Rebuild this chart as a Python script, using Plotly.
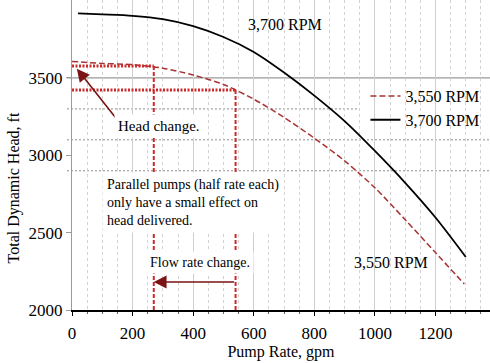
import plotly.graph_objects as go

# ---- data ----
flow_3700 = [20, 100, 200, 300, 400, 500, 600, 700, 800, 900, 1000, 1100, 1200, 1300]
head_3700 = [3917, 3911, 3902, 3880, 3835, 3765, 3668, 3535, 3386, 3221, 3028, 2822, 2598, 2343]

flow_3550 = [0, 100, 200, 300, 400, 500, 600, 700, 800, 900, 1000, 1100, 1200, 1295]
head_3550 = [3607, 3594, 3586, 3563, 3519, 3458, 3363, 3245, 3111, 2964, 2790, 2584, 2371, 2168]

change_flows = [270, 540]      # half rate (parallel) and full rate
change_heads = [3577, 3422]    # head at each rate on 3,550 RPM curve
y_grid_dotted = [3300, 3100, 2900]
y_grid_solid = [3500]

x_ticks = [0, 200, 400, 600, 800, 1000, 1200]
y_ticks = [2000, 2500, 3000, 3500]
x_range = [0, 1380]
y_range = [2000, 4004]

FONT = "Liberation Serif, Times New Roman, serif"
RED_CURVE = "#a83232"
RED_GUIDE = "#cc2a2a"
ARROW = "#7a1414"

fig = go.Figure()

fig.add_trace(go.Scatter(
    x=flow_3550, y=head_3550, mode="lines", name="3,550 RPM",
    line=dict(color=RED_CURVE, width=1.5, dash="6px,3px", shape="spline", smoothing=0.8),
))
fig.add_trace(go.Scatter(
    x=flow_3700, y=head_3700, mode="lines", name="3,700 RPM",
    line=dict(color="black", width=1.8, shape="spline", smoothing=0.8),
))

shapes = []
# horizontal gridlines
for yv in y_grid_solid:
    shapes.append(dict(type="line", xref="paper", yref="y", x0=-0.012, x1=1, y0=yv, y1=yv,
                       line=dict(color="#9a9a9a", width=1.2), layer="below"))
for yv in y_grid_dotted:
    shapes.append(dict(type="line", xref="paper", yref="y", x0=-0.012, x1=1, y0=yv, y1=yv,
                       line=dict(color="#8a8a8a", width=1, dash="2px,2px"), layer="below"))
# white backdrop behind the legend (hides grid, not curves)
shapes.append(dict(type="rect", xref="paper", yref="paper", x0=0.686, x1=1.0, y0=0.58, y1=0.728,
                   fillcolor="white", line=dict(width=0), layer="below"))
# red guide lines: horizontal from y-axis to curve, vertical from curve to x-axis
for fq, hd in zip(change_flows, change_heads):
    shapes.append(dict(type="line", xref="x", yref="y", x0=x_range[0], x1=fq, y0=hd, y1=hd,
                       line=dict(color=RED_GUIDE, width=3, dash="2px,1.5px")))
    shapes.append(dict(type="line", xref="x", yref="y", x0=fq, x1=fq, y0=hd, y1=y_range[0],
                       line=dict(color=RED_GUIDE, width=2, dash="4px,2px")))

annotations = [
    dict(x=575, y=3843, xref="x", yref="y", text="3,700 RPM", showarrow=False,
         xanchor="left", yanchor="middle", font=dict(family=FONT, size=16, color="black")),
    dict(x=926, y=2304, xref="x", yref="y", text="3,550 RPM", showarrow=False,
         xanchor="left", yanchor="middle", font=dict(family=FONT, size=16, color="black")),
    # head change arrow
    dict(x=16, y=3560, xref="x", yref="y", ax=150, ay=3228, axref="x", ayref="y",
         text="", showarrow=True, arrowhead=2, arrowsize=1.6, arrowwidth=1.6, arrowcolor=ARROW),
    dict(x=140, y=3190, xref="x", yref="y", text="Head change.", showarrow=False,
         xanchor="left", yanchor="middle", bgcolor="white", borderpad=3,
         font=dict(family=FONT, size=15, color="black")),
    dict(x=100, y=2698, xref="x", yref="y",
         text="Parallel pumps (half rate each)<br>only have a small effect on<br>head delivered.",
         showarrow=False, xanchor="left", yanchor="middle", align="left",
         bgcolor="white", borderpad=4,
         font=dict(family=FONT, size=14, color="black")),
    dict(x=243, y=2310, xref="x", yref="y", text="Flow rate change.", showarrow=False,
         xanchor="left", yanchor="middle", bgcolor="white", borderpad=3,
         font=dict(family=FONT, size=14, color="black")),
    # flow rate change arrow
    dict(x=change_flows[0], y=2181, xref="x", yref="y", ax=change_flows[1], ay=2181,
         axref="x", ayref="y", text="", showarrow=True, arrowhead=2, arrowsize=1.6,
         arrowwidth=1.6, arrowcolor=ARROW),
    # y-axis title (placed lower than centre, as in the reference)
    dict(x=-0.139, y=0.395, xref="paper", yref="paper", text="Total Dynamic Head, ft",
         textangle=-90, showarrow=False, xanchor="center", yanchor="middle",
         font=dict(family=FONT, size=16, color="black")),
]

fig.update_layout(
    width=490, height=363,
    margin=dict(l=72, r=0, t=0, b=53),
    paper_bgcolor="white", plot_bgcolor="white",
    font=dict(family=FONT, size=16, color="black"),
    shapes=shapes, annotations=annotations,
    showlegend=True,
    legend=dict(x=0.702, y=0.745, xanchor="left", yanchor="top",
                bgcolor="rgba(0,0,0,0)", font=dict(family=FONT, size=16, color="black"),
                tracegroupgap=0, itemwidth=30),
    xaxis=dict(
        range=x_range, tickvals=x_ticks, ticktext=[str(v) for v in x_ticks],
        showline=True, linecolor="black", linewidth=1.5,
        ticks="outside", ticklen=4, tickcolor="black", ticklabelstandoff=3,
        showgrid=True, gridcolor="#cfcfcf", gridwidth=1,
        minor=dict(dtick=50, showgrid=True, gridcolor="#d2d2d2", griddash="3px,3px",
                   ticks="outside", ticklen=2, tickcolor="#666"),
        zeroline=False, automargin=False,
        title=dict(text="Pump Rate, gpm", font=dict(family=FONT, size=16), standoff=4),
        tickfont=dict(family=FONT, size=17),
    ),
    yaxis=dict(
        range=y_range, tickvals=y_ticks, ticktext=[str(v) for v in y_ticks],
        showline=True, linecolor="#9a9a9a", linewidth=1,
        ticks="outside", ticklen=5, tickcolor="#9a9a9a",
        showgrid=False, zeroline=False, automargin=False,
        tickfont=dict(family=FONT, size=17),
    ),
)

fig.write_html("out.html", config={"displayModeBar": False},
               post_script="document.body.style.margin='0px';")
